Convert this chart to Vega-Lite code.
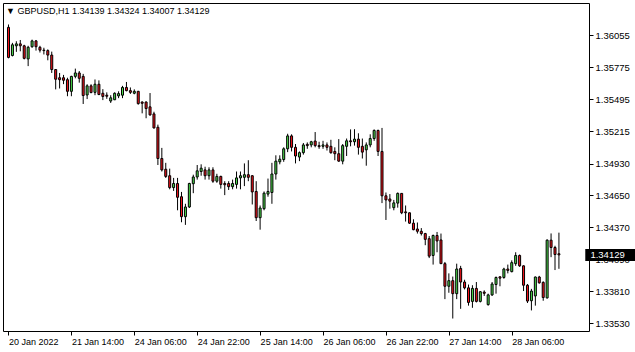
{
"$schema": "https://vega.github.io/schema/vega-lite/v6.json",
"width": 586, "height": 328,
"autosize": {"type": "none"},
"padding": {"left": 3, "top": 3, "right": 46, "bottom": 21},
"background": "white",
"config": {"view": {"stroke": "#000000", "strokeWidth": 1}, "font": "Liberation Sans", "axis": {"labelOverlap": false, "labelFlush": false, "labelBound": false}},
"title": {"text": "▼ GBPUSD,H1  1.34139 1.34324 1.34007 1.34129", "anchor": "start", "frame": "group", "orient": "top", "offset": -20, "dx": 3, "baseline": "alphabetic", "fontSize": 9, "fontWeight": "normal", "font": "Liberation Sans", "color": "#000000"},
"datasets": {
"candles": [
{"i":0,"o":1.36124,"h":1.36149,"l":1.35852,"c":1.35860},
{"i":1,"o":1.35877,"h":1.35988,"l":1.35869,"c":1.35971},
{"i":2,"o":1.35962,"h":1.36002,"l":1.35909,"c":1.35979},
{"i":3,"o":1.35979,"h":1.36013,"l":1.35914,"c":1.35962},
{"i":4,"o":1.35962,"h":1.35971,"l":1.35843,"c":1.35852},
{"i":5,"o":1.35847,"h":1.35962,"l":1.35784,"c":1.35949},
{"i":6,"o":1.35954,"h":1.36016,"l":1.35945,"c":1.36005},
{"i":7,"o":1.36005,"h":1.36013,"l":1.35920,"c":1.35954},
{"i":8,"o":1.35949,"h":1.35962,"l":1.35903,"c":1.35924},
{"i":9,"o":1.35924,"h":1.35945,"l":1.35886,"c":1.35920},
{"i":10,"o":1.35920,"h":1.35931,"l":1.35835,"c":1.35881},
{"i":11,"o":1.35881,"h":1.35911,"l":1.35724,"c":1.35754},
{"i":12,"o":1.35754,"h":1.35758,"l":1.35580,"c":1.35669},
{"i":13,"o":1.35682,"h":1.35724,"l":1.35588,"c":1.35665},
{"i":14,"o":1.35682,"h":1.35707,"l":1.35626,"c":1.35660},
{"i":15,"o":1.35665,"h":1.35682,"l":1.35520,"c":1.35563},
{"i":16,"o":1.35563,"h":1.35699,"l":1.35520,"c":1.35694},
{"i":17,"o":1.35694,"h":1.35762,"l":1.35677,"c":1.35724},
{"i":18,"o":1.35724,"h":1.35741,"l":1.35639,"c":1.35677},
{"i":19,"o":1.35694,"h":1.35716,"l":1.35452,"c":1.35526},
{"i":20,"o":1.35531,"h":1.35625,"l":1.35495,"c":1.35611},
{"i":21,"o":1.35611,"h":1.35625,"l":1.35546,"c":1.35552},
{"i":22,"o":1.35554,"h":1.35667,"l":1.35529,"c":1.35625},
{"i":23,"o":1.35625,"h":1.35659,"l":1.35529,"c":1.35535},
{"i":24,"o":1.35546,"h":1.35582,"l":1.35486,"c":1.35518},
{"i":25,"o":1.35529,"h":1.35554,"l":1.35497,"c":1.35520},
{"i":26,"o":1.35478,"h":1.35529,"l":1.35461,"c":1.35506},
{"i":27,"o":1.35489,"h":1.35554,"l":1.35486,"c":1.35546},
{"i":28,"o":1.35523,"h":1.35563,"l":1.35503,"c":1.35543},
{"i":29,"o":1.35529,"h":1.35611,"l":1.35503,"c":1.35597},
{"i":30,"o":1.35597,"h":1.35645,"l":1.35563,"c":1.35569},
{"i":31,"o":1.35569,"h":1.35597,"l":1.35540,"c":1.35554},
{"i":32,"o":1.35546,"h":1.35580,"l":1.35537,"c":1.35563},
{"i":33,"o":1.35563,"h":1.35567,"l":1.35446,"c":1.35455},
{"i":34,"o":1.35469,"h":1.35475,"l":1.35370,"c":1.35458},
{"i":35,"o":1.35469,"h":1.35475,"l":1.35327,"c":1.35412},
{"i":36,"o":1.35427,"h":1.35548,"l":1.35350,"c":1.35356},
{"i":37,"o":1.35365,"h":1.35384,"l":1.35237,"c":1.35242},
{"i":38,"o":1.35248,"h":1.35271,"l":1.34917,"c":1.34974},
{"i":39,"o":1.34974,"h":1.35067,"l":1.34860,"c":1.34874},
{"i":40,"o":1.34880,"h":1.34936,"l":1.34804,"c":1.34817},
{"i":41,"o":1.34823,"h":1.34885,"l":1.34704,"c":1.34719},
{"i":42,"o":1.34719,"h":1.34804,"l":1.34690,"c":1.34755},
{"i":43,"o":1.34755,"h":1.34804,"l":1.34520,"c":1.34634},
{"i":44,"o":1.34639,"h":1.34681,"l":1.34415,"c":1.34464},
{"i":45,"o":1.34464,"h":1.34577,"l":1.34392,"c":1.34549},
{"i":46,"o":1.34549,"h":1.34761,"l":1.34540,"c":1.34755},
{"i":47,"o":1.34753,"h":1.34832,"l":1.34670,"c":1.34812},
{"i":48,"o":1.34812,"h":1.34917,"l":1.34789,"c":1.34866},
{"i":49,"o":1.34860,"h":1.34923,"l":1.34823,"c":1.34889},
{"i":50,"o":1.34874,"h":1.34902,"l":1.34789,"c":1.34823},
{"i":51,"o":1.34823,"h":1.34897,"l":1.34789,"c":1.34874},
{"i":52,"o":1.34874,"h":1.34897,"l":1.34761,"c":1.34775},
{"i":53,"o":1.34775,"h":1.34840,"l":1.34761,"c":1.34817},
{"i":54,"o":1.34817,"h":1.34823,"l":1.34710,"c":1.34747},
{"i":55,"o":1.34755,"h":1.34775,"l":1.34653,"c":1.34744},
{"i":56,"o":1.34755,"h":1.34775,"l":1.34698,"c":1.34727},
{"i":57,"o":1.34727,"h":1.34789,"l":1.34704,"c":1.34755},
{"i":58,"o":1.34747,"h":1.34860,"l":1.34710,"c":1.34804},
{"i":59,"o":1.34804,"h":1.34860,"l":1.34704,"c":1.34823},
{"i":60,"o":1.34809,"h":1.34931,"l":1.34732,"c":1.34832},
{"i":61,"o":1.34832,"h":1.34959,"l":1.34775,"c":1.34809},
{"i":62,"o":1.34823,"h":1.34827,"l":1.34571,"c":1.34681},
{"i":63,"o":1.34685,"h":1.34775,"l":1.34426,"c":1.34455},
{"i":64,"o":1.34455,"h":1.34562,"l":1.34350,"c":1.34540},
{"i":65,"o":1.34534,"h":1.34685,"l":1.34520,"c":1.34670},
{"i":66,"o":1.34662,"h":1.34798,"l":1.34639,"c":1.34685},
{"i":67,"o":1.34676,"h":1.34936,"l":1.34577,"c":1.34838},
{"i":68,"o":1.34838,"h":1.35002,"l":1.34789,"c":1.34951},
{"i":69,"o":1.34945,"h":1.35002,"l":1.34923,"c":1.34968},
{"i":70,"o":1.34965,"h":1.35072,"l":1.34945,"c":1.35059},
{"i":71,"o":1.35059,"h":1.35191,"l":1.35030,"c":1.35172},
{"i":72,"o":1.35172,"h":1.35186,"l":1.35036,"c":1.35072},
{"i":73,"o":1.35072,"h":1.35101,"l":1.34931,"c":1.34996},
{"i":74,"o":1.34987,"h":1.35036,"l":1.34951,"c":1.35025},
{"i":75,"o":1.35025,"h":1.35110,"l":1.35008,"c":1.35093},
{"i":76,"o":1.35098,"h":1.35115,"l":1.35059,"c":1.35087},
{"i":77,"o":1.35093,"h":1.35129,"l":1.35072,"c":1.35121},
{"i":78,"o":1.35127,"h":1.35206,"l":1.35072,"c":1.35087},
{"i":79,"o":1.35087,"h":1.35121,"l":1.35059,"c":1.35078},
{"i":80,"o":1.35081,"h":1.35129,"l":1.35059,"c":1.35093},
{"i":81,"o":1.35093,"h":1.35115,"l":1.35044,"c":1.35072},
{"i":82,"o":1.35081,"h":1.35138,"l":1.35016,"c":1.35025},
{"i":83,"o":1.35036,"h":1.35072,"l":1.34959,"c":1.35016},
{"i":84,"o":1.35016,"h":1.35144,"l":1.34945,"c":1.34951},
{"i":85,"o":1.34951,"h":1.35101,"l":1.34923,"c":1.35087},
{"i":86,"o":1.35081,"h":1.35149,"l":1.34996,"c":1.35129},
{"i":87,"o":1.35129,"h":1.35229,"l":1.35081,"c":1.35121},
{"i":88,"o":1.35121,"h":1.35231,"l":1.35087,"c":1.35144},
{"i":89,"o":1.35144,"h":1.35195,"l":1.35008,"c":1.35072},
{"i":90,"o":1.35081,"h":1.35149,"l":1.34974,"c":1.35030},
{"i":91,"o":1.35050,"h":1.35115,"l":1.34911,"c":1.35093},
{"i":92,"o":1.35093,"h":1.35186,"l":1.35072,"c":1.35149},
{"i":93,"o":1.35149,"h":1.35229,"l":1.35129,"c":1.35220},
{"i":94,"o":1.35220,"h":1.35227,"l":1.34996,"c":1.35036},
{"i":95,"o":1.35036,"h":1.35242,"l":1.34583,"c":1.34647},
{"i":96,"o":1.34647,"h":1.34676,"l":1.34435,"c":1.34611},
{"i":97,"o":1.34619,"h":1.34662,"l":1.34534,"c":1.34600},
{"i":98,"o":1.34543,"h":1.34611,"l":1.34520,"c":1.34585},
{"i":99,"o":1.34583,"h":1.34676,"l":1.34543,"c":1.34668},
{"i":100,"o":1.34668,"h":1.34670,"l":1.34486,"c":1.34498},
{"i":101,"o":1.34506,"h":1.34562,"l":1.34421,"c":1.34498},
{"i":102,"o":1.34498,"h":1.34500,"l":1.34401,"c":1.34407},
{"i":103,"o":1.34407,"h":1.34441,"l":1.34345,"c":1.34350},
{"i":104,"o":1.34356,"h":1.34413,"l":1.34316,"c":1.34336},
{"i":105,"o":1.34336,"h":1.34364,"l":1.34299,"c":1.34316},
{"i":106,"o":1.34316,"h":1.34322,"l":1.34214,"c":1.34265},
{"i":107,"o":1.34271,"h":1.34294,"l":1.34101,"c":1.34118},
{"i":108,"o":1.34124,"h":1.34307,"l":1.34044,"c":1.34299},
{"i":109,"o":1.34299,"h":1.34330,"l":1.34152,"c":1.34251},
{"i":110,"o":1.34260,"h":1.34316,"l":1.34050,"c":1.34052},
{"i":111,"o":1.34052,"h":1.34067,"l":1.33741,"c":1.33854},
{"i":112,"o":1.33854,"h":1.33967,"l":1.33797,"c":1.33903},
{"i":113,"o":1.33903,"h":1.33939,"l":1.33571,"c":1.33789},
{"i":114,"o":1.33789,"h":1.34052,"l":1.33741,"c":1.34005},
{"i":115,"o":1.34010,"h":1.34033,"l":1.33656,"c":1.33891},
{"i":116,"o":1.33891,"h":1.33911,"l":1.33826,"c":1.33840},
{"i":117,"o":1.33840,"h":1.33869,"l":1.33684,"c":1.33712},
{"i":118,"o":1.33721,"h":1.33863,"l":1.33665,"c":1.33835},
{"i":119,"o":1.33835,"h":1.33891,"l":1.33712,"c":1.33721},
{"i":120,"o":1.33721,"h":1.33812,"l":1.33712,"c":1.33806},
{"i":121,"o":1.33803,"h":1.33818,"l":1.33769,"c":1.33792},
{"i":122,"o":1.33693,"h":1.33789,"l":1.33684,"c":1.33778},
{"i":123,"o":1.33778,"h":1.33891,"l":1.33769,"c":1.33874},
{"i":124,"o":1.33869,"h":1.33939,"l":1.33789,"c":1.33931},
{"i":125,"o":1.33937,"h":1.33939,"l":1.33854,"c":1.33925},
{"i":126,"o":1.33931,"h":1.34016,"l":1.33920,"c":1.34005},
{"i":127,"o":1.34005,"h":1.34044,"l":1.33967,"c":1.33993},
{"i":128,"o":1.33982,"h":1.34081,"l":1.33976,"c":1.34061},
{"i":129,"o":1.34052,"h":1.34152,"l":1.34033,"c":1.34124},
{"i":130,"o":1.34124,"h":1.34132,"l":1.34024,"c":1.34033},
{"i":131,"o":1.34033,"h":1.34037,"l":1.33812,"c":1.33863},
{"i":132,"o":1.33863,"h":1.33874,"l":1.33707,"c":1.33724},
{"i":133,"o":1.33727,"h":1.33831,"l":1.33642,"c":1.33812},
{"i":134,"o":1.33769,"h":1.33939,"l":1.33684,"c":1.33935},
{"i":135,"o":1.33935,"h":1.33945,"l":1.33877,"c":1.33884},
{"i":136,"o":1.33888,"h":1.33897,"l":1.33727,"c":1.33755},
{"i":137,"o":1.33752,"h":1.34265,"l":1.33746,"c":1.34258},
{"i":138,"o":1.34258,"h":1.34317,"l":1.34109,"c":1.34194},
{"i":139,"o":1.34194,"h":1.34209,"l":1.33996,"c":1.34132},
{"i":140,"o":1.34139,"h":1.34324,"l":1.34007,"c":1.34129}
],
"last": [{"price": 1.34129}]
},
"layer": [
{"data": {"name": "candles"},
 "mark": {"type": "rule", "color": "#000000", "strokeWidth": 1},
 "encoding": {
  "x": {"field": "i", "type": "quantitative", "scale": {"domain": [-0.125, 146.375], "nice": false, "zero": false},
   "axis": {"orient": "bottom", "values": [0,16,32,48,64,80,96,112,128], "tickCount": 30,
    "labelExpr": "['20 Jan 2022','21 Jan 14:00','24 Jan 06:00','24 Jan 22:00','25 Jan 14:00','26 Jan 06:00','26 Jan 22:00','27 Jan 14:00','28 Jan 06:00'][round(datum.value/16)]",
    "tickSize": 4, "tickColor": "#000000", "tickWidth": 1, "labelAlign": "left", "labelPadding": 2, "labelDx": 1, "labelBaseline": "top",
    "labelFont": "Liberation Sans", "labelFontSize": 9, "labelColor": "#000000", "domain": false, "grid": false, "title": null,
    "labelOverlap": false, "labelFlush": false, "labelBound": false}},
  "y": {"field": "l", "type": "quantitative", "scale": {"domain": [1.335055, 1.362935], "nice": false, "zero": false},
   "axis": {"orient": "right", "values": [1.36055, 1.35775, 1.35495, 1.35215, 1.3493, 1.3465, 1.3437, 1.3409, 1.3381, 1.3353], "tickCount": 30,
    "format": ".5f", "tickSize": 4, "tickColor": "#000000", "tickWidth": 1, "labelPadding": 2, "labelFont": "Liberation Sans", "labelFontSize": 9.5,
    "labelColor": "#000000", "labelBaseline": "middle", "domain": false, "grid": false, "title": null, "labelOverlap": false, "labelFlush": false, "labelBound": false}},
  "y2": {"field": "h"}
 }},
{"data": {"name": "candles"},
 "mark": {"type": "bar", "size": 2, "stroke": "#000000", "strokeWidth": 1},
 "encoding": {
  "x": {"field": "i", "type": "quantitative"},
  "y": {"field": "o", "type": "quantitative"},
  "y2": {"field": "c"},
  "fill": {"condition": {"test": "datum.c > datum.o", "value": "#4cdc4c"}, "value": "#f4141c"}
 }},
{"data": {"name": "last"},
 "mark": {"type": "bar", "size": 12, "color": "#000000", "orient": "horizontal"},
 "encoding": {
  "x": {"datum": 146.7},
  "x2": {"datum": 160},
  "y": {"field": "price", "type": "quantitative"}
 }},
{"data": {"name": "last"},
 "mark": {"type": "text", "color": "#ffffff", "align": "left", "baseline": "middle", "fontSize": 9.5, "font": "Liberation Sans"},
 "encoding": {
  "x": {"datum": 148},
  "y": {"field": "price", "type": "quantitative"},
  "text": {"field": "price", "type": "quantitative", "format": ".5f"}
 }}
]
}
